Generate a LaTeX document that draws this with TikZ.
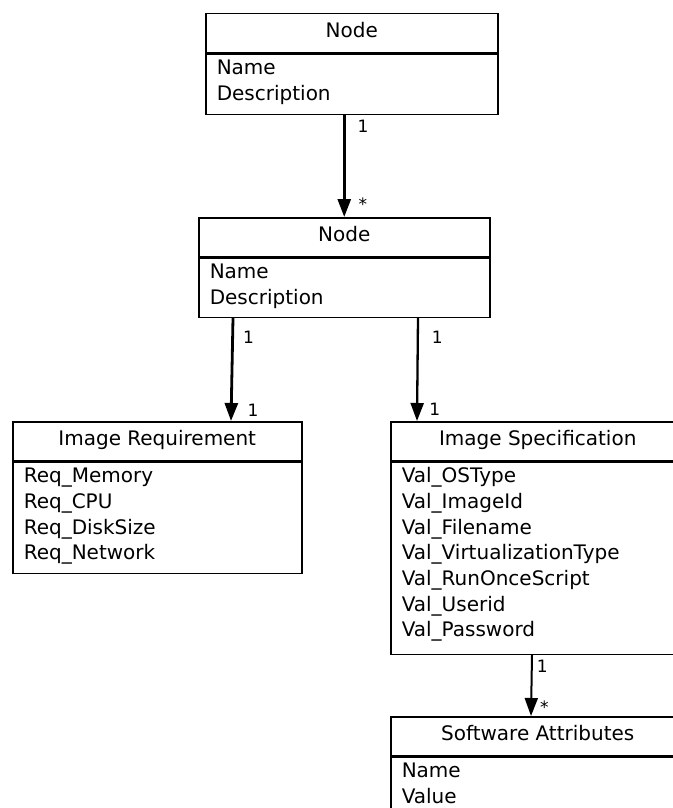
\documentclass[tikz,border=0pt]{standalone}
\usepackage{fontspec}
\setmainfont{DejaVu Sans}
\usetikzlibrary{arrows.meta,positioning,calc}
\definecolor{cInk}{HTML}{000000}
\tikzset{
  every picture/.style={line width=1.5pt},
  ttl/.style={draw=cInk, anchor=north west, inner sep=0pt, minimum height=39pt,
              text height=14.5pt, text depth=5.5pt, text=cInk,
              font=\fontsize{20}{25.7}\selectfont},
  attr/.style={draw=cInk, anchor=north west, inner xsep=11pt, inner ysep=0pt,
               align=left, text height=20.5pt, text=cInk,
               font=\fontsize{20}{25.7}\selectfont},
  assoc/.style={-{Triangle[length=18pt,width=13pt]}, draw=cInk, line width=2.8pt},
  mult/.style={font=\fontsize{17}{20}\selectfont, text=cInk, anchor=west, inner sep=0pt},
}

\begin{document}
\begin{tikzpicture}[x=1pt,y=-1pt]
\useasboundingbox (0,0) rectangle (672,808);

% ------------------------------------------------------------ parent node
\node[ttl, minimum width=292pt] (topHd) at (205,13) {Node};
\node[attr, text width=270pt, text depth=39.5pt] (topAttr) at (topHd.south west)
      {Name\\Description};

% ------------------------------------------------------------ child node
\node[ttl, minimum width=291pt] (subHd) at (198,217) {Node};
\node[attr, text width=269pt, text depth=38.5pt] (subAttr) at (subHd.south west)
      {Name\\Description};

% ------------------------------------------------------------ image classes
\node[ttl, minimum width=289pt] (reqHd) at (12,421) {Image Requirement};
\node[attr, text width=267pt, text depth=90.5pt] (reqAttr) at (reqHd.south west)
      {Req\_Memory\\Req\_CPU\\Req\_DiskSize\\Req\_Network};

\node[ttl, minimum width=294pt] (specHd) at (390,421) {Image Specification};
\node[attr, text width=272pt, text depth=171.5pt] (specAttr) at (specHd.south west)
      {Val\_OSType\\Val\_ImageId\\Val\_Filename\\Val\_VirtualizationType\\
       Val\_RunOnceScript\\Val\_Userid\\Val\_Password};

\node[ttl, minimum width=294pt] (swHd) at (390,716) {Software Attributes};
\node[attr, text width=272pt, text depth=51.5pt] (swAttr) at (swHd.south west)
      {Name\\Value};

% ------------------------------------------------------------ associations
\draw[assoc] (topAttr.south -| subHd.north) --
      node[mult, pos=0.11, xshift=12pt] (mTopA) {1}
      node[mult, pos=0.87, xshift=13pt] (mTopB) {*} (subHd.north);

\draw[assoc] ([xshift=35pt]subAttr.south west) --
      node[mult, pos=0.19, xshift=9pt] (mReqA) {1}
      node[mult, pos=0.895, xshift=15pt] (mReqB) {1} ([xshift=219pt]reqHd.north west);

\draw[assoc, line width=2.3pt] ([xshift=220pt]subAttr.south west) --
      node[mult, pos=0.19, xshift=13pt] (mSpecA) {1}
      node[mult, pos=0.885, xshift=11pt] (mSpecB) {1} ([xshift=27pt]specHd.north west);

\draw[assoc, line width=2pt] ([xshift=142pt]specAttr.south west) --
      node[mult, pos=0.185, xshift=4pt] (mSwA) {1}
      node[mult, pos=0.86, xshift=8pt] (mSwB) {*} ([xshift=141pt]swHd.north west);

\end{tikzpicture}
\end{document}
